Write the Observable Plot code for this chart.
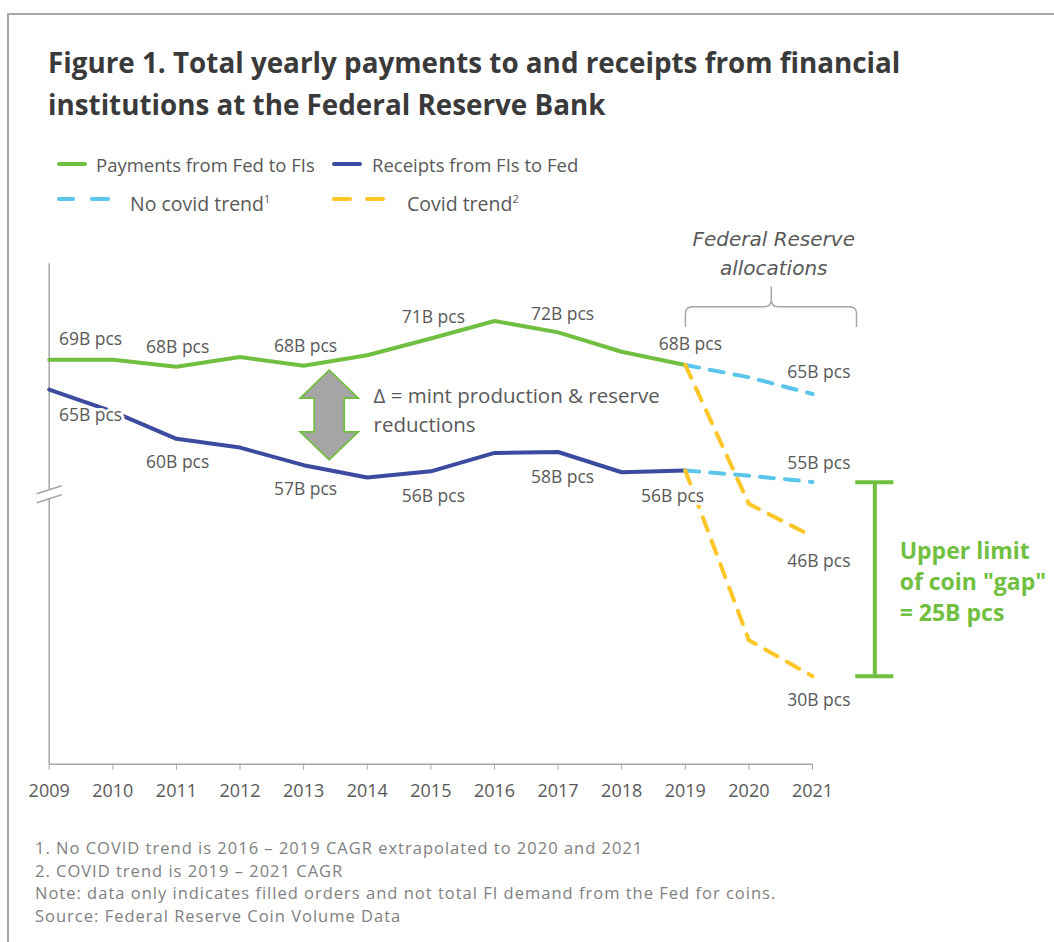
<!DOCTYPE html>
<html>
<head>
<meta charset="utf-8">
<script src="https://cdn.jsdelivr.net/npm/d3@7"></script>
<script src="https://cdn.jsdelivr.net/npm/@observablehq/plot@0.6"></script>
<style>
html, body { margin: 0; padding: 0; background: #fff; overflow: hidden; }
#page { position: relative; width: 1054px; height: 942px; font-family: "Open Sans", Lato, sans-serif; }
#frame { position: absolute; left: 7px; top: 13px; width: 1100px; height: 1000px; border: 2px solid #a6a6a6; box-sizing: border-box; }
.t { position: absolute; white-space: nowrap; line-height: 1; }
.title { font-size: 27.8px; font-weight: 700; color: #3a3a3a; left: 48px; }
.leg { font-size: 18.5px; color: #595959; }
.leg2 { font-size: 19.5px; color: #595959; }
.leg2 sup { font-size: 11px; vertical-align: 8px; line-height: 0; }
.sw { position: absolute; height: 4px; border-radius: 2px; }
.foot { font-size: 16.5px; letter-spacing: 1px; color: #7f7f7f; left: 35px; }
#chart { position: absolute; left: 0; top: 215px; }
</style>
</head>
<body>
<div id="page">
  <div id="frame"></div>
  <div class="t title" style="top:48.5px">Figure 1. Total yearly payments to and receipts from financial</div>
  <div class="t title" style="top:90.5px">institutions at the Federal Reserve Bank</div>

  <div class="sw" style="left:57px;top:162px;width:30px;background:#70bf41"></div>
  <div class="t leg" style="left:96px;top:156px">Payments from Fed to FIs</div>
  <div class="sw" style="left:332px;top:162px;width:30px;background:#3c4b9f"></div>
  <div class="t leg" style="left:372px;top:156px">Receipts from FIs to Fed</div>

  <div class="sw" style="left:57px;top:197px;width:18px;background:#5bc5ec"></div>
  <div class="sw" style="left:90px;top:197px;width:20px;background:#5bc5ec"></div>
  <div class="t leg2" style="left:130px;top:194px">No covid trend<sup>1</sup></div>
  <div class="sw" style="left:332px;top:197px;width:20px;background:#ffc629"></div>
  <div class="sw" style="left:365px;top:197px;width:20px;background:#ffc629"></div>
  <div class="t leg2" style="left:407px;top:194px">Covid trend<sup>2</sup></div>

  <div id="chart"></div>

  <div class="t foot" style="top:840.4px">1. No COVID trend is 2016 – 2019 CAGR extrapolated to 2020 and 2021</div>
  <div class="t foot" style="top:862.8px">2. COVID trend is 2019 – 2021 CAGR</div>
  <div class="t foot" style="top:885.4px">Note: data only indicates filled orders and not total FI demand from the Fed for coins.</div>
  <div class="t foot" style="top:908px">Source: Federal Reserve Coin Volume Data</div>
</div>
<script>
// ---- Data (billions of pieces) ----
const years = [2009, 2010, 2011, 2012, 2013, 2014, 2015, 2016, 2017, 2018, 2019];
const payments = [68.6, 68.6, 67.8, 68.9, 67.9, 69.1, 71.0, 73.0, 71.7, 69.5, 68.0];
const receipts = [65.2, 62.7, 59.6, 58.6, 56.6, 55.2, 55.9, 58.0, 58.1, 55.8, 56.0];

const trendYears = [2019, 2020, 2021];
const noCovidPayments = [68.0, 66.6, 64.7];
const noCovidReceipts = [56.0, 55.4, 54.7];
const covidPayments = [68.0, 52.2, 48.5];
const covidReceipts = [56.0, 36.7, 32.6];

const xTicks = [2009, 2010, 2011, 2012, 2013, 2014, 2015, 2016, 2017, 2018, 2019, 2020, 2021];
const yDomain = [22.6, 79.5];

// value labels (placed in data units)
const labelTexts  = ["69B pcs", "68B pcs", "68B pcs", "71B pcs", "72B pcs", "68B pcs",
                     "65B pcs", "60B pcs", "57B pcs", "56B pcs", "58B pcs", "56B pcs",
                     "65B pcs", "55B pcs", "46B pcs", "30B pcs"];
const labelYears  = [2009.65, 2011.02, 2013.03, 2015.04, 2017.07, 2019.08,
                     2009.65, 2011.02, 2013.03, 2015.04, 2017.07, 2018.8,
                     2021.1, 2021.1, 2021.1, 2021.1];
const labelValues = [70.9, 70.0, 70.1, 73.4, 73.8, 70.3,
                     62.3, 56.9, 53.9, 53.1, 55.2, 53.1,
                     67.1, 56.75, 45.65, 29.9];

// annotations (data units)
const deltaText = "Δ = mint production & reserve\nreductions";
const deltaPos = [2014.1, 63.1];
const allocText = "Federal Reserve\nallocations";
const allocPos = [2020.39, 80.9];
const gapText = "Upper limit\nof coin \"gap\"\n= 25B pcs";
const gapPos = [2022.37, 43.5];
const arrowYear = 2013.41, arrowTop = 67.35, arrowBottom = 57.15;
const bracketX = [2019.01, 2020.36, 2021.70];   // left, centre, right
const bracketY = [72.27, 74.55, 76.9];           // ends, bar, tip
const gapX = [2021.68, 2021.98, 2022.28];        // cap left, bar, cap right
const gapY = [54.66, 32.6];
const breakValue = 53.4;

const green = "#70bf41", blue = "#3c4b9f", lightBlue = "#5bc5ec", yellow = "#ffc629";
const axisGray = "#a6a6a6", textGray = "#595959";

const toRows = (xs, ys) => xs.map((x, i) => ({x, y: ys[i]}));
const labels = labelTexts.map((t, i) => ({t, x: labelYears[i], y: labelValues[i]}));

const arrowMark = (index, {x, y}) => {
  const cx = x(arrowYear), y0 = y(arrowTop), y1 = y(arrowBottom);
  const hw = 29, sw = 15, hl = 28;
  const d = `M${cx},${y0} L${cx + hw},${y0 + hl} L${cx + sw},${y0 + hl} L${cx + sw},${y1 - hl} L${cx + hw},${y1 - hl} L${cx},${y1} L${cx - hw},${y1 - hl} L${cx - sw},${y1 - hl} L${cx - sw},${y0 + hl} L${cx - hw},${y0 + hl} Z`;
  return d3.create("svg:path").attr("d", d).attr("fill", "#a5a5a5").attr("stroke", green).attr("stroke-width", 1.8).node();
};

const curlyMark = (index, {x, y}) => {
  const xa = x(bracketX[0]), xc = x(bracketX[1]), xb = x(bracketX[2]);
  const ye = y(bracketY[0]), yh = y(bracketY[1]), yt = y(bracketY[2]);
  const r = 7;
  const d = `M${xa},${ye} V${yh + r} Q${xa},${yh} ${xa + r},${yh} H${xc - r} Q${xc},${yh} ${xc},${yh - r} V${yt} M${xc},${yh - r} Q${xc},${yh} ${xc + r},${yh} H${xb - r} Q${xb},${yh} ${xb},${yh + r} V${ye}`;
  return d3.create("svg:path").attr("d", d).attr("fill", "none").attr("stroke", axisGray).attr("stroke-width", 1.5).node();
};

const breakMark = (index, {x, y}) => {
  const cx = x(2009), cy = y(breakValue);
  const g = d3.create("svg:g");
  g.append("path").attr("d", `M${cx - 12},${cy + 1} L${cx + 13},${cy - 8} L${cx + 13},${cy + 1} L${cx - 12},${cy + 10} Z`).attr("fill", "#fff");
  g.append("path").attr("d", `M${cx - 12},${cy + 1} L${cx + 13},${cy - 7}`).attr("stroke", axisGray).attr("stroke-width", 1.5);
  g.append("path").attr("d", `M${cx - 12},${cy + 10} L${cx + 13},${cy + 2}`).attr("stroke", axisGray).attr("stroke-width", 1.5);
  return g.node();
};

const dash = {strokeWidth: 4, strokeDasharray: "14,11", strokeLinecap: "round"};

const chart = Plot.plot({
  width: 1054,
  height: 615,
  marginLeft: 48.7,
  marginRight: 242,
  marginTop: 48.3,
  marginBottom: 66.3,
  x: {domain: [2009, 2021]},
  y: {domain: yDomain, axis: null},
  style: {fontFamily: "'Open Sans', Lato, sans-serif", fontSize: "18px", color: textGray, background: "transparent", overflow: "visible"},
  marks: [
    Plot.ruleX([2009], {stroke: axisGray, strokeWidth: 1.5}),
    Plot.ruleY([yDomain[0]], {stroke: axisGray, strokeWidth: 1.5}),
    Plot.axisX({ticks: xTicks, tickFormat: d => String(d), label: null, tickSize: 6, tickPadding: 14, stroke: axisGray, fontSize: 18, fill: textGray}),
    breakMark,
    Plot.line(toRows(years, payments), {x: "x", y: "y", stroke: green, strokeWidth: 4, strokeLinejoin: "round"}),
    Plot.line(toRows(years, receipts), {x: "x", y: "y", stroke: blue, strokeWidth: 4, strokeLinejoin: "round"}),
    Plot.line(toRows(trendYears, noCovidPayments), {x: "x", y: "y", stroke: lightBlue, ...dash}),
    Plot.line(toRows(trendYears, noCovidReceipts), {x: "x", y: "y", stroke: lightBlue, ...dash}),
    Plot.line(toRows(trendYears, covidPayments), {x: "x", y: "y", stroke: yellow, ...dash}),
    Plot.line(toRows(trendYears, covidReceipts), {x: "x", y: "y", stroke: yellow, ...dash}),
    arrowMark,
    curlyMark,
    Plot.ruleX([gapX[1]], {y1: gapY[0], y2: gapY[1], stroke: green, strokeWidth: 4}),
    Plot.ruleY(gapY, {x1: gapX[0], x2: gapX[2], stroke: green, strokeWidth: 4}),
    Plot.text(labels, {x: "x", y: "y", text: "t", fill: textGray, fontSize: 17.5, stroke: "white", strokeWidth: 6}),
    Plot.text([deltaText], {x: () => deltaPos[0], y: () => deltaPos[1], text: d => d, textAnchor: "start", fill: textGray, fontSize: 20.5, lineHeight: 1.4}),
    Plot.text([allocText], {x: () => allocPos[0], y: () => allocPos[1], text: d => d, fill: textGray, fontFamily: "'DejaVu Sans', sans-serif", fontSize: 20, fontStyle: "italic", lineHeight: 1.45, letterSpacing: "1.5px"}),
    Plot.text([gapText], {x: () => gapPos[0], y: () => gapPos[1], text: d => d, textAnchor: "start", fill: green, fontSize: 23, fontWeight: "bold", lineHeight: 1.35})
  ]
});
document.getElementById("chart").appendChild(chart);
</script>
</body>
</html>
